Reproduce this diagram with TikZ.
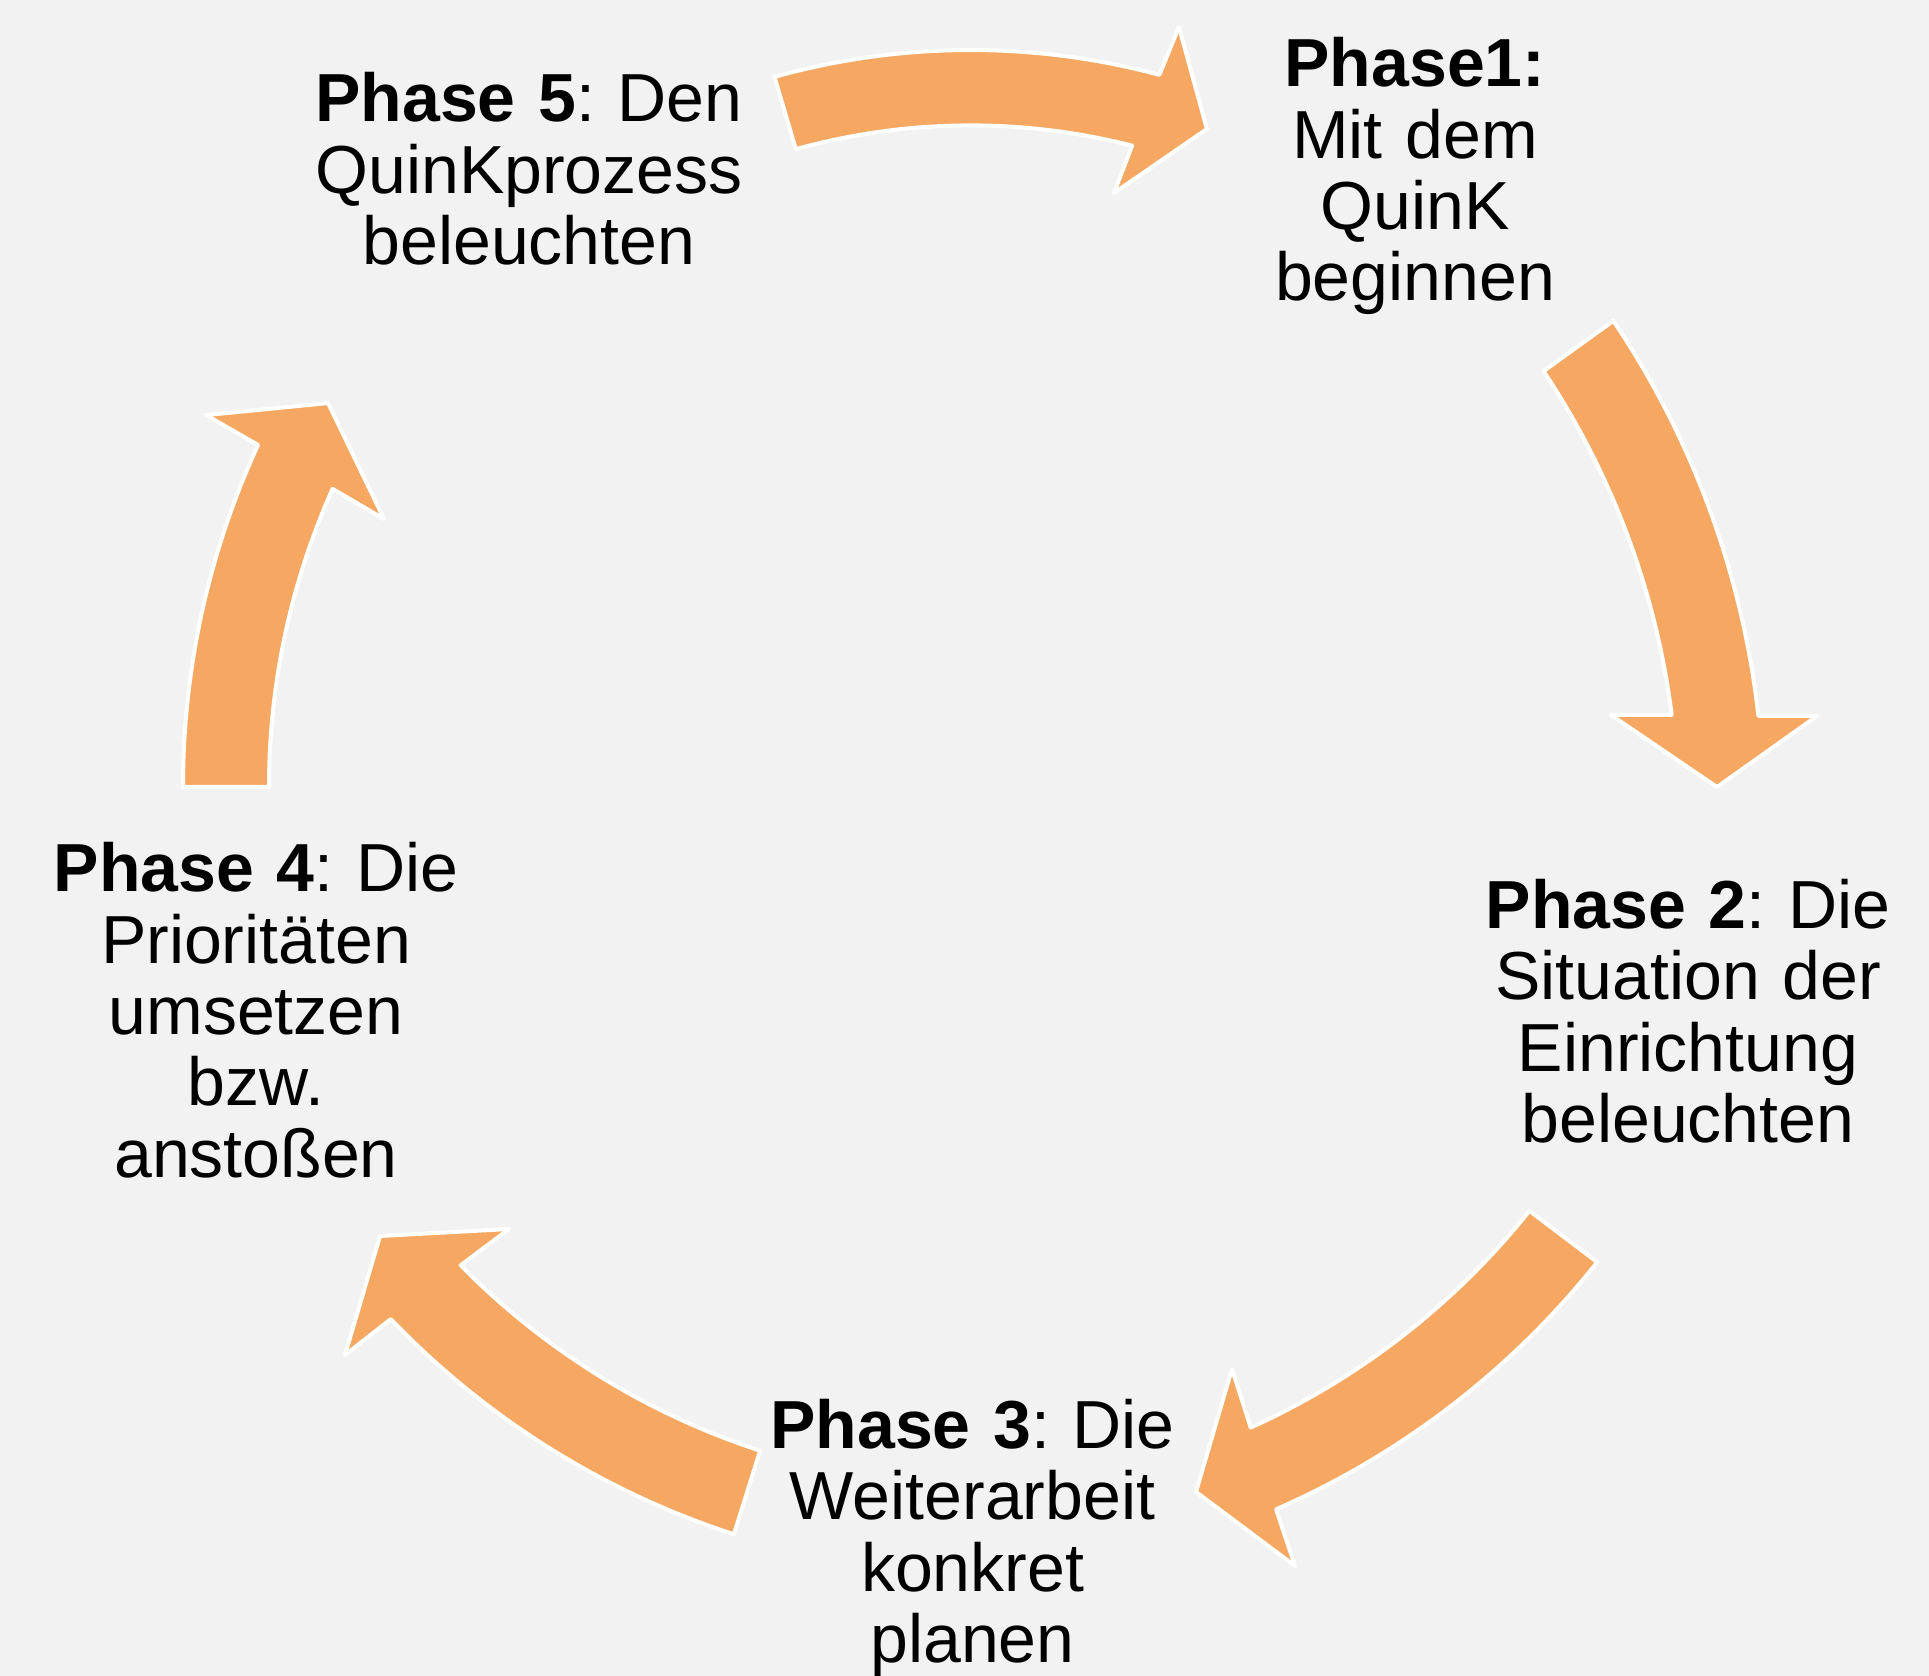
\documentclass[tikz,border=0pt]{standalone}
\usepackage{fontspec}
\setmainfont{Liberation Sans}
\frenchspacing
\definecolor{bg}{RGB}{242,242,242}
\definecolor{arrowfill}{RGB}{246,168,98}
\begin{document}
\begin{tikzpicture}[x=0.5pt,y=0.5pt,
  cyclearrow/.style={fill=arrowfill, draw=white, line width=2pt, line join=round},
  phase/.style={text width=240pt, align=center, inner sep=0pt, anchor=base,
    font=\fontsize{34}{35.7}\selectfont\frenchspacing}]
\fill[bg] (0,0) rectangle (1929,1676);
\useasboundingbox (0,0) rectangle (1929,1676);

% arrow Phase 5 -> Phase 1 (top)
\begin{scope}[shift={(970.6,896.6)}]
\draw[cyclearrow] (105.6:729.4) arc[start angle=105.6, end angle=75.0, radius=729.4]
  -- (74.52:780.7) -- (70.03:692) -- (76.26:603.7) -- (75.7:654)
  arc[start angle=75.7, end angle=105.5, radius=654] -- cycle;
\end{scope}

% arrow Phase 1 -> Phase 2 (right)
\begin{scope}[shift={(878,861)}]
\draw[cyclearrow] (33.9:886) arc[start angle=33.9, end angle=6.42, radius=886]
  -- (6.02:944.2) -- (1.91:839.5) -- (7.77:739.8) -- (7.19:800)
  arc[start angle=7.19, end angle=33.7, radius=800] -- cycle;
\end{scope}

% arrow Phase 2 -> Phase 3 (bottom right)
\begin{scope}[shift={(940.2,935.5)}]
\draw[cyclearrow] (-38.45:839) arc[start angle=-38.45, end angle=-66.4, radius=839]
  -- (-66.74:898.5) -- (-71.2:793.8) -- (-65.1:693) -- (-65.68:754)
  arc[start angle=-65.68, end angle=-38.6, radius=754] -- cycle;
\end{scope}

% arrow Phase 3 -> Phase 4 (bottom left)
\begin{scope}[shift={(991,933)}]
\draw[cyclearrow] (-108.0:832) arc[start angle=-108.0, end angle=-136.17, radius=832]
  -- (-136.55:889.9) -- (-141.1:785.1) -- (-134.76:684.5) -- (-135.44:744.4)
  arc[start angle=-135.44, end angle=-108.07, radius=744.4] -- cycle;
\end{scope}

% arrow Phase 4 -> Phase 5 (left)
\begin{scope}[shift={(1000.3,889)}]
\draw[cyclearrow] (180:817.3) arc[start angle=180, end angle=155.26, radius=817.3]
  -- (154.91:877.1) -- (150.27:774.2) -- (156.5:672) -- (155.94:731.3)
  arc[start angle=155.94, end angle=180, radius=731.3] -- cycle;
\end{scope}

\node[phase] (p5) at (529,1554.3) {\textbf{Phase 5}: Den\\QuinKprozess\\beleuchten};
\node[phase] (p1) at (1415,1589.3) {\textbf{Phase1:}\\Mit dem\\QuinK\\beginnen};
\node[phase] (p2) at (1688,747.7) {\textbf{Phase 2}: Die\\Situation der\\Einrichtung\\beleuchten};
\node[phase] (p3) at (972.5,227.7) {\textbf{Phase 3}: Die\\Weiterarbeit\\konkret\\planen};
\node[phase] (p4) at (256,784.3) {\textbf{Phase 4}: Die\\Prioritäten\\umsetzen\\bzw.\\anstoßen};
\end{tikzpicture}
\end{document}
